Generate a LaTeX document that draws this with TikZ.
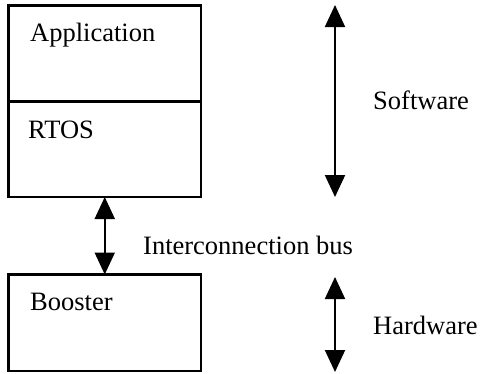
\documentclass[tikz,border=0pt]{standalone}
\usepackage{fontspec}
\setmainfont{Liberation Serif}
\usetikzlibrary{arrows.meta,positioning}

\begin{document}
\begin{tikzpicture}[x=1pt,y=-1pt,
  layer/.style={draw,line width=2.6pt,minimum width=192.5pt,inner sep=0pt,outer sep=0pt},
  tag/.style={anchor=base west,inner sep=0pt,font=\fontsize{26.5}{30}\selectfont},
  both/.style={line width=2pt,{Triangle[width=20pt,length=22pt]}-{Triangle[width=20pt,length=22pt]}}]
\useasboundingbox (0,0) rectangle (482,373);
\node[layer,minimum height=96pt,anchor=north west](app) at (8.5,5.5){};
\node[layer,minimum height=95.5pt,below=0pt of app](rtos){};
\node[layer,minimum height=96.5pt,anchor=north west](boost) at (8.5,274.5){};
\node[tag](apptxt) at (30,41){Application};
\node[tag](rtostxt) at (28,138){RTOS};
\node[tag](boosttxt) at (30,310){Booster};
\node[tag](bus) at (143,254){Interconnection bus};
\node[tag](sw) at (373,109){Software};
\node[tag](hw) at (373,334){Hardware};
\coordinate (swtop) at (335,5);
\coordinate (swbot) at (335,197);
\coordinate (hwtop) at (335,277);
\coordinate (hwbot) at (335,372);
\draw[both] (rtos.south) -- (boost.north);
\draw[both] (swtop) -- (swbot);
\draw[both] (hwtop) -- (hwbot);
\end{tikzpicture}
\end{document}
